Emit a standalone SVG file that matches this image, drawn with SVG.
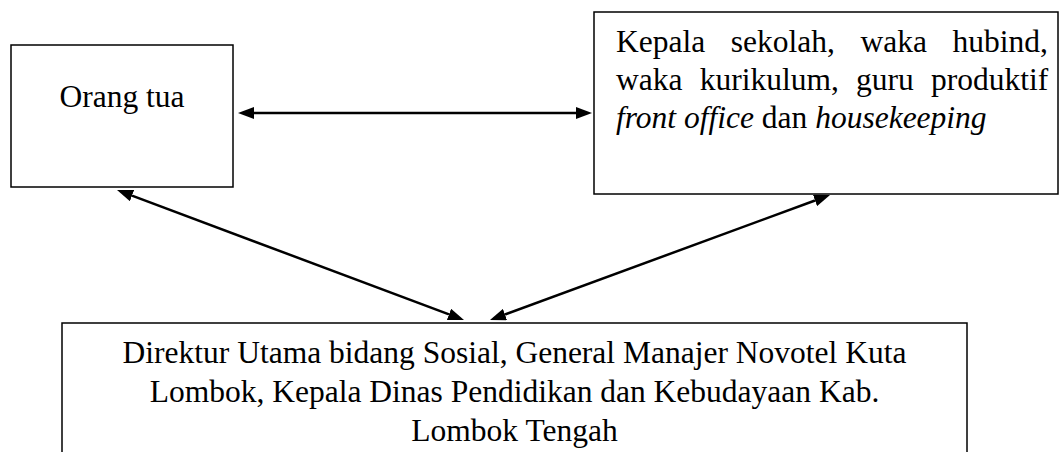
<svg xmlns="http://www.w3.org/2000/svg" width="1060" height="452" viewBox="0 0 1060 452">
  <style>
    .box { fill: #ffffff; stroke: #000000; stroke-width: 1.5; }
    .t { font-family: "Liberation Serif", "Times New Roman", serif; font-size: 31.5px; fill: #000000; }
    .c { text-anchor: middle; }
    .i { font-style: italic; }
    .conn { stroke: #000000; stroke-width: 2.5; fill: none; marker-start: url(#arrow); marker-end: url(#arrow); }
  </style>
  <defs>
    <marker id="arrow" markerUnits="userSpaceOnUse" viewBox="0 -6 16 12" markerWidth="16" markerHeight="12" refX="0" refY="0" orient="auto-start-reverse">
      <path d="M0,-6 L16,0 L0,6 z" fill="#000000"/>
    </marker>
  </defs>
  <rect x="0" y="0" width="1060" height="452" fill="#ffffff"/>

  <g id="node-orang-tua">
    <rect class="box" x="11" y="45" width="222" height="142"/>
    <text class="t c" x="122" y="107">Orang tua</text>
  </g>

  <g id="node-sekolah">
    <rect class="box" x="594" y="12" width="464" height="182"/>
    <text class="t" y="52"><tspan x="616">Kepala</tspan><tspan x="730.8">sekolah,</tspan><tspan x="860.5">waka</tspan><tspan x="952.6">hubind,</tspan></text>
    <text class="t" y="90"><tspan x="616">waka</tspan><tspan x="699.7">kurikulum,</tspan><tspan x="856">guru</tspan><tspan x="930.9">produktif</tspan></text>
    <text class="t" x="616" y="128"><tspan class="i">front office</tspan> dan <tspan class="i">housekeeping</tspan></text>
  </g>

  <g id="node-direktur">
    <rect class="box" x="62" y="323" width="905" height="160"/>
    <text class="t c" x="514.5" y="363">Direktur Utama bidang Sosial, General Manajer Novotel Kuta</text>
    <text class="t c" x="514.5" y="402">Lombok, Kepala Dinas Pendidikan dan Kebudayaan Kab.</text>
    <text class="t c" x="514.5" y="441">Lombok Tengah</text>
  </g>

  <g id="connectors">
    <line class="conn" x1="254" y1="113" x2="576" y2="113"/>
    <line class="conn" x1="132" y1="195.6" x2="449" y2="314.4"/>
    <line class="conn" x1="505" y1="314.5" x2="815" y2="200.5"/>
  </g>
</svg>
